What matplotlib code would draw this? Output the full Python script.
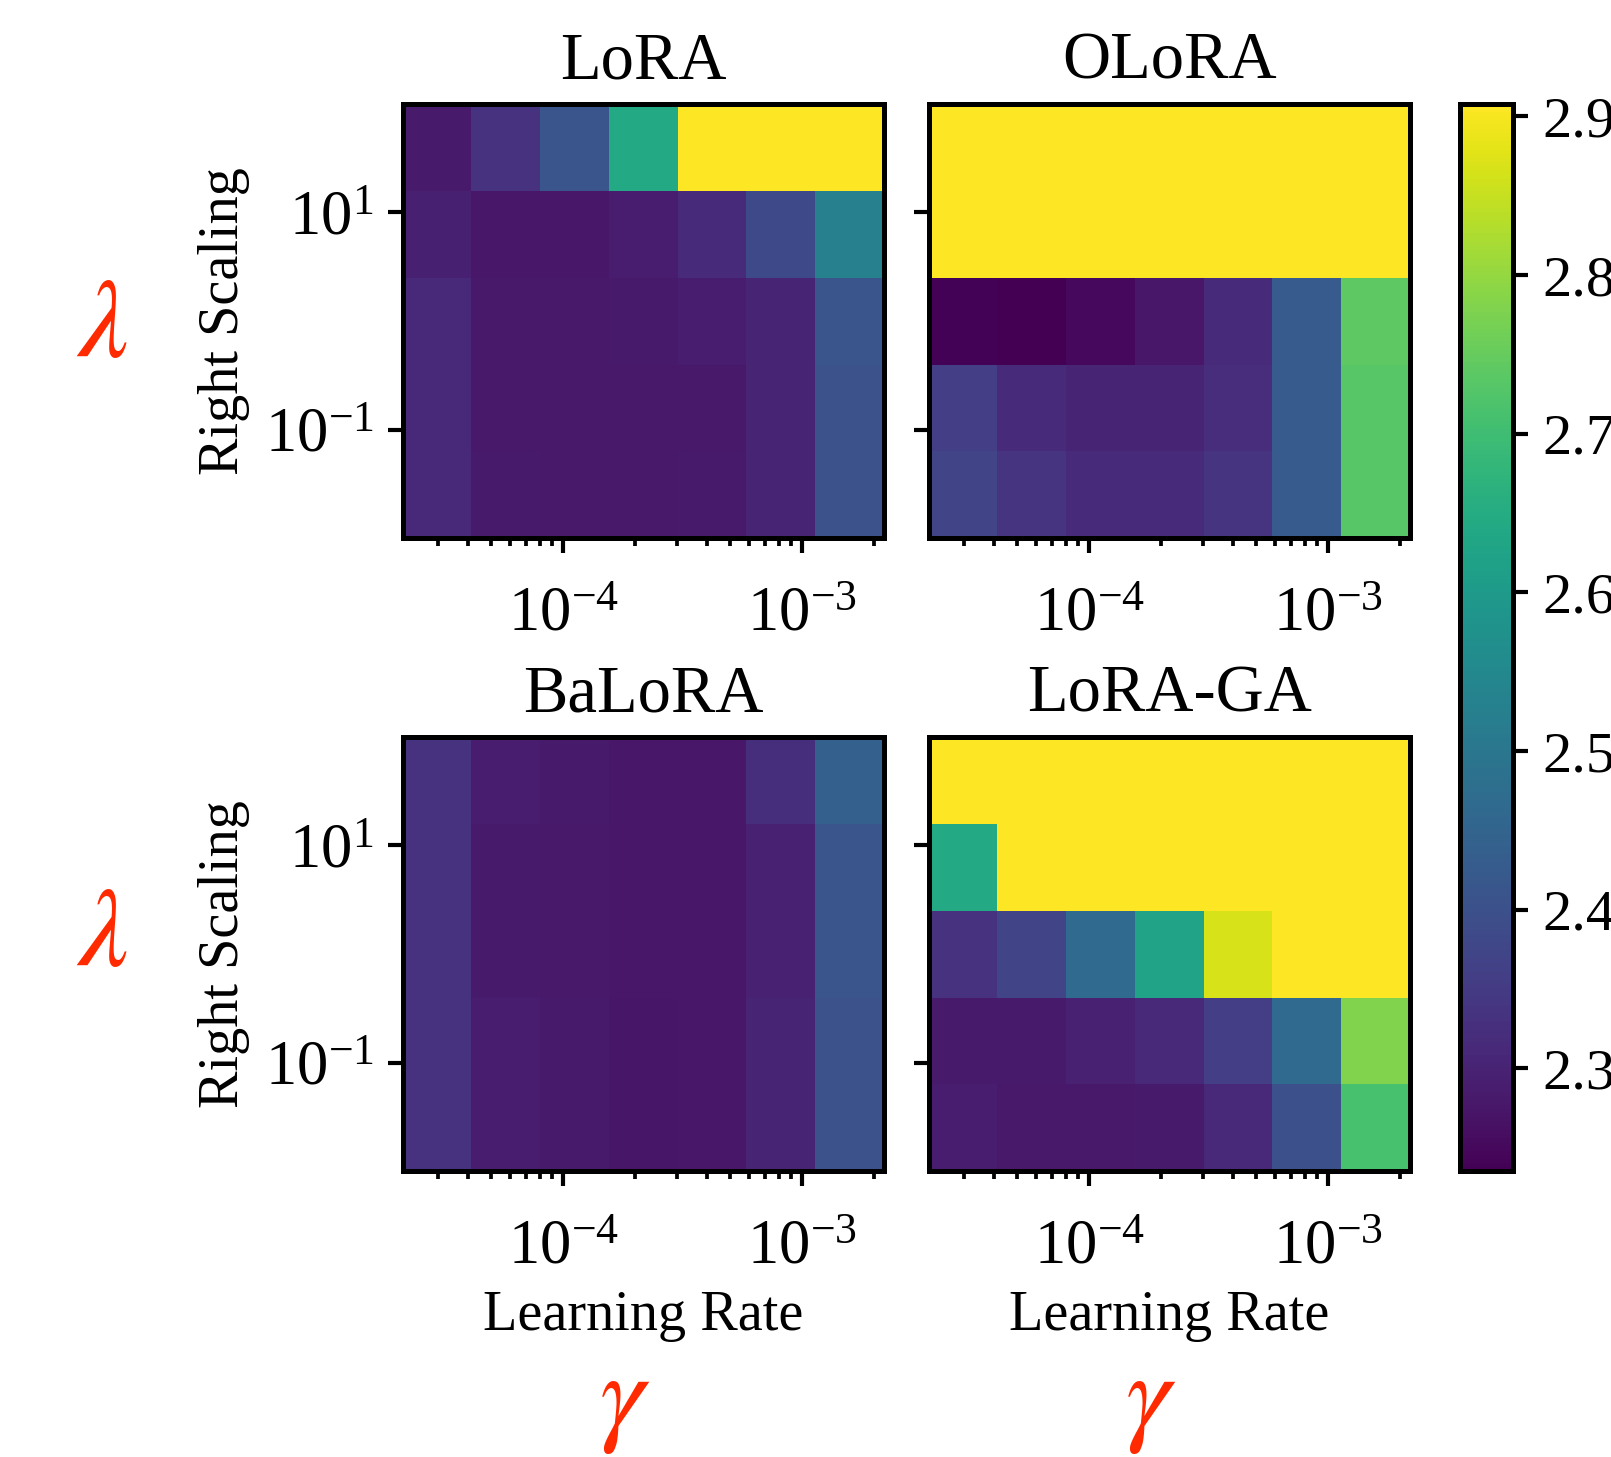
import numpy as np
import matplotlib
matplotlib.use("Agg")
import matplotlib.pyplot as plt

plt.rcParams['font.family'] = ['Liberation Serif', 'DejaVu Serif']
plt.rcParams['mathtext.fontset'] = 'stix'

# grid edges (log spaced) for learning rate and right scaling
lr_edges = np.logspace(-4.67, -2.66, 8)
scale_edges = np.logspace(-2, 2, 6)

titles = ["LoRA", "OLoRA", "BaLoRA", "LoRA-GA"]
DIV = 2.908  # diverged runs, shown at top of colour range

# rows: bottom (small scaling) -> top (large scaling); cols: small lr -> large lr
lora = [
    [2.310, 2.282, 2.279, 2.279, 2.282, 2.302, 2.405],
    [2.310, 2.279, 2.279, 2.279, 2.279, 2.302, 2.405],
    [2.310, 2.279, 2.279, 2.282, 2.285, 2.302, 2.410],
    [2.295, 2.275, 2.275, 2.290, 2.316, 2.383, 2.525],
    [2.282, 2.330, 2.410, 2.640, DIV, DIV, DIV],
]
olora = [
    [2.370, 2.336, 2.316, 2.316, 2.336, 2.425, 2.730],
    [2.356, 2.316, 2.302, 2.302, 2.320, 2.425, 2.730],
    [2.240, 2.235, 2.250, 2.275, 2.316, 2.425, 2.740],
    [DIV, DIV, DIV, DIV, DIV, DIV, DIV],
    [DIV, DIV, DIV, DIV, DIV, DIV, DIV],
]
balora = [
    [2.330, 2.285, 2.280, 2.272, 2.275, 2.302, 2.405],
    [2.330, 2.285, 2.280, 2.272, 2.275, 2.302, 2.405],
    [2.330, 2.282, 2.278, 2.275, 2.275, 2.296, 2.410],
    [2.330, 2.282, 2.278, 2.275, 2.275, 2.296, 2.410],
    [2.330, 2.285, 2.280, 2.275, 2.275, 2.322, 2.440],
]
lora_ga = [
    [2.290, 2.279, 2.279, 2.282, 2.310, 2.400, 2.713],
    [2.282, 2.282, 2.296, 2.310, 2.356, 2.464, 2.780],
    [2.330, 2.370, 2.464, 2.625, 2.868, DIV, DIV],
    [2.640, DIV, DIV, DIV, DIV, DIV, DIV],
    [DIV, DIV, DIV, DIV, DIV, DIV, DIV],
]
grids = [lora, olora, balora, lora_ga]

vmin, vmax = 2.235, 2.908
cbar_ticks = [2.3, 2.4, 2.5, 2.6, 2.7, 2.8, 2.9]

fig = plt.figure(figsize=(1611 / 300, 1457 / 300), dpi=300)

positions = [
    [0.250, 0.6305, 0.2985, 0.2983],
    [0.5765, 0.6305, 0.2985, 0.2983],
    [0.250, 0.196, 0.2985, 0.2984],
    [0.5765, 0.196, 0.2985, 0.2984],
]
lam_y = [0.7736, 0.3554]

red = '#ff2a00'
for i, (title, grid) in enumerate(zip(titles, grids)):
    ax = fig.add_axes(positions[i])
    mesh = ax.pcolormesh(lr_edges, scale_edges, np.array(grid),
                         cmap='viridis', vmin=vmin, vmax=vmax)
    ax.set_xscale('log')
    ax.set_yscale('log')
    ax.set_xlim(lr_edges[0], lr_edges[-1])
    ax.set_ylim(scale_edges[0], scale_edges[-1])
    ax.set_yticks([0.1, 10])
    ax.yaxis.set_minor_locator(matplotlib.ticker.NullLocator())
    ax.set_title(title, fontsize=16, pad=6)
    ax.tick_params(labelsize=15, width=1.0)
    ax.tick_params(axis='x', which='major', pad=8)
    ax.tick_params(which='minor', width=0.9)
    for s in ax.spines.values():
        s.set_linewidth(1.2)
    if i % 2 == 0:
        ax.set_ylabel("Right Scaling", fontsize=13.5, labelpad=3.5)
        fig.text(0.063, lam_y[i // 2], r'$\lambda$',
                 color=red, fontsize=27, ha='center', va='center')
    else:
        ax.set_yticklabels([])
    if i >= 2:
        ax.set_xlabel("Learning Rate", fontsize=13.5, labelpad=3)
        fig.text(positions[i][0] + positions[i][2] / 2 - 0.0115, 0.036, r'$\gamma$',
                 color=red, fontsize=27, ha='center', va='center')

cax = fig.add_axes([0.9063, 0.196, 0.0331, 0.7328])
cb = fig.colorbar(mesh, cax=cax, ticks=cbar_ticks)
cb.ax.tick_params(labelsize=14, width=1.0)
cb.outline.set_linewidth(1.2)

fig.savefig("out.png", dpi=300)
